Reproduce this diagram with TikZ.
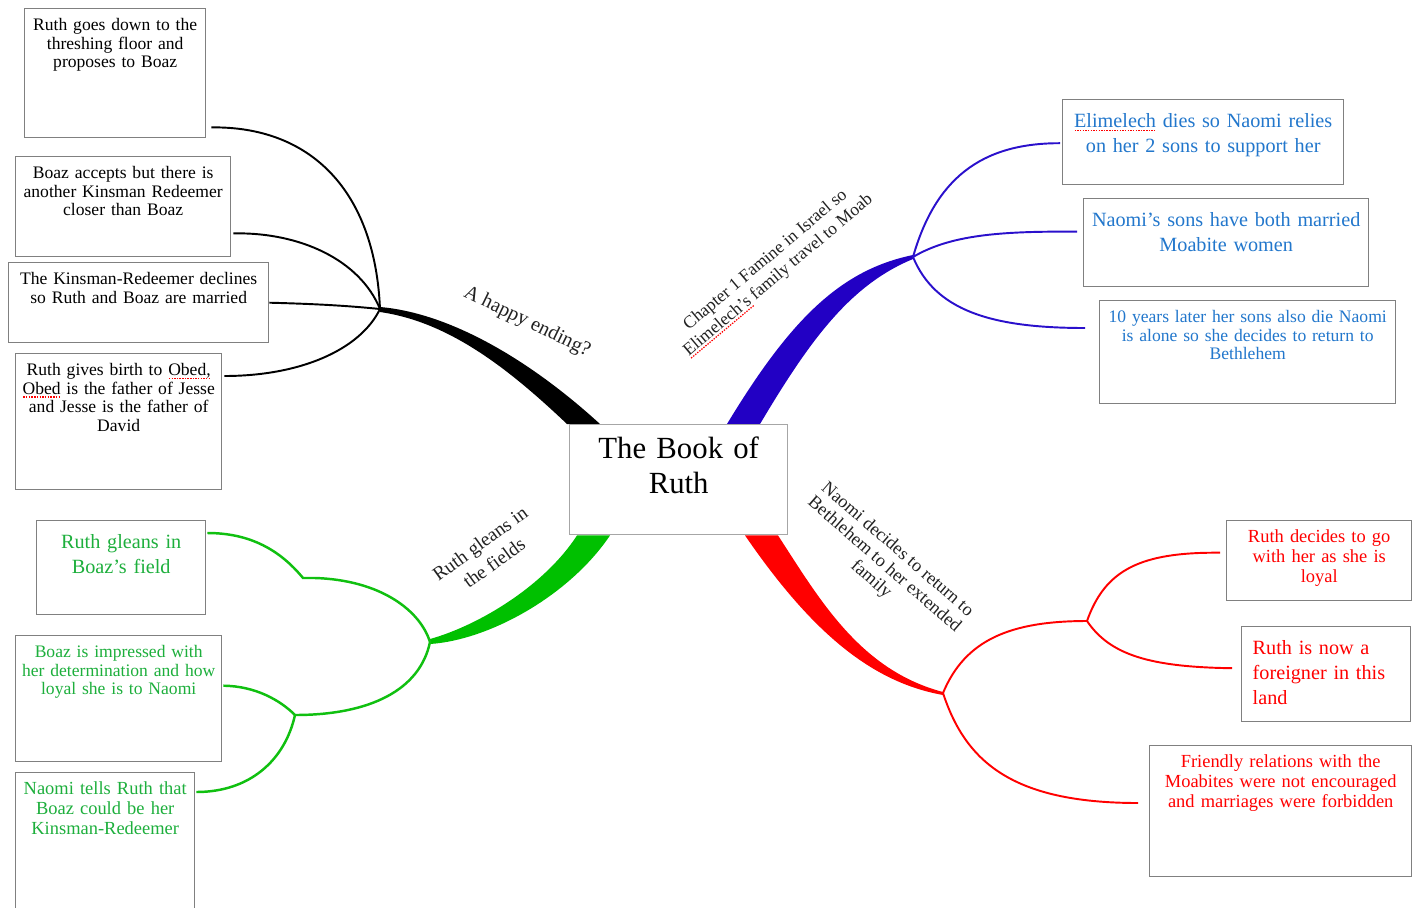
\documentclass[tikz,border=0pt]{standalone}
\usepackage{fontspec}
\setmainfont{Liberation Serif}
\usetikzlibrary{backgrounds}

\definecolor{boxgray}{HTML}{808080}
\definecolor{mapblue}{HTML}{2200C4}
\definecolor{blueline}{HTML}{2A10CC}
\definecolor{bluetext}{HTML}{2277CC}
\definecolor{mapgreen}{HTML}{00C000}
\definecolor{greenline}{HTML}{10C010}
\definecolor{greentext}{HTML}{1DAF3C}
\definecolor{mapred}{HTML}{FF0000}
\definecolor{labelgray}{HTML}{222222}

% red dotted spelling mark under a word
\newcommand{\spellmark}[1]{\leavevmode\setbox0\hbox{#1}\rlap{\textcolor{red}{\hbox to \wd0{\xleaders\hbox to 1.5pt{\hss\rule[-2pt]{0.8pt}{0.7pt}\hss}\hfill}}}\box0\relax}

\tikzset{
  box/.style={draw=boxgray, line width=0.8pt, fill=white, anchor=north west, align=center, inner xsep=0.7mm, inner ysep=1.4mm},
  boxS/.style={box, font=\fontsize{10}{10.5}\selectfont, text height=3mm},
  boxM/.style={box, font=\fontsize{10.5}{11.3}\selectfont, text height=3mm},
  boxL/.style={box, font=\fontsize{11.5}{14.2}\selectfont, text height=4.2mm},
  twig/.style={line width=1.1pt},
  branchlabel/.style={text=labelgray, align=center}
}

\begin{document}
\begin{tikzpicture}[x=0.2mm,y=-0.2mm]
\useasboundingbox (0,0) rectangle (1416,907);

\coordinate (hubH) at (380,309);
\coordinate (hubC) at (913,257);
\coordinate (hubN) at (943,693);
\coordinate (hubNb) at (1087,621);
\coordinate (hubG) at (430,642);
\coordinate (hubGb) at (295,715);
\coordinate (kinkG) at (303,578);

\node[box, draw=gray!70, font=\fontsize{17.5}{19.8}\selectfont, text width=42.2mm, text height=5.4mm, text depth=13.8mm] (book) at (569,424) {The Book of\\Ruth};

\node[boxS, text width=34.8mm, text depth=20mm] (hPropose) at (24,8) {Ruth goes down to the\\threshing floor and\\proposes to Boaz};
\node[boxS, text width=41.6mm, text depth=14.2mm] (hAccept) at (15,156) {Boaz accepts but there is\\another Kinsman Redeemer\\closer than Boaz};
\node[boxS, text width=50.6mm, text depth=10.2mm] (hDecline) at (8,262) {The Kinsman-Redeemer declines\\so Ruth and Boaz are married};
\node[boxS, text width=39.8mm, text depth=21.4mm] (hObed) at (15,353) {Ruth gives birth to \spellmark{Obed,}\\\spellmark{Obed} is the father of Jesse\\and Jesse is the father of\\David};

\node[boxL, text=bluetext, text width=54.8mm, text depth=10mm] (cDies) at (1062,99) {\spellmark{Elimelech} dies so Naomi relies\\on her 2 sons to support her};
\node[boxL, text=bluetext, text width=55.6mm, text depth=10.6mm] (cMarried) at (1083,198) {Naomi’s sons have both married\\Moabite women};
\node[boxS, text=bluetext, text width=57.8mm, text depth=14.8mm] (cAlone) at (1099,300) {10 years later her sons also die Naomi\\is alone so she decides to return to\\Bethlehem};

\node[boxL, text=greentext, text width=32.4mm, text depth=11.8mm] (gField) at (36,520) {Ruth gleans in\\Boaz’s field};
\node[boxS, text=greentext, text width=39.8mm, text depth=19.4mm] (gImpressed) at (15,635) {Boaz is impressed with\\her determination and how\\loyal she is to Naomi};
\node[boxM, text=greentext, text width=34.4mm, text depth=22.2mm] (gTells) at (15,772) {Naomi tells Ruth that\\Boaz could be her\\Kinsman-Redeemer};

\node[boxM, text=mapred, text width=35.6mm, text depth=10.2mm] (nLoyal) at (1226,520) {Ruth decides to go\\with her as she is\\loyal};
\node[boxL, text=mapred, align=left, inner xsep=2.2mm, text width=29.4mm, text depth=12mm] (nForeign) at (1241,626) {Ruth is now a\\foreigner in this\\land};
\node[boxM, text=mapred, text width=51mm, text depth=20.4mm] (nFriendly) at (1149,745) {Friendly relations with the\\Moabites were not encouraged\\and marriages were forbidden};

\node[branchlabel, rotate=-26, font=\fontsize{11.5}{13}\selectfont] (lHappy) at (527,322) {A happy ending?};
\node[branchlabel, rotate=40, font=\fontsize{10}{11.3}\selectfont] (lFamine) at (772,268) {Chapter 1 Famine in Israel so\\\spellmark{Elimelech’s} family travel to Moab};
\node[branchlabel, rotate=36, font=\fontsize{11}{13.5}\selectfont] (lGleans) at (487,553) {Ruth gleans in\\the fields};
\node[branchlabel, rotate=-41, font=\fontsize{10.4}{11.3}\selectfont] (lReturn) at (884,565) {Naomi decides to return to\\Bethlehem to her extended\\family};

\begin{scope}[on background layer]
\fill[white] (0,0) rectangle (1416,907);

\fill[black] ([shift={(0,-2)}]hubH) .. controls (450,313) and (530,360) .. ([shift={(31,0)}]book.north west) -- ([shift={(-2,0)}]book.north west) .. controls (510,370) and (450,322) .. ([shift={(0,3)}]hubH) -- cycle;
\fill[mapblue] ([shift={(0,-2)}]hubC) .. controls (840,270) and (790,320) .. ([shift={(158,0)}]book.north west) -- ([shift={(191,0)}]book.north west) .. controls (810,340) and (850,285) .. ([shift={(0,2)}]hubC) -- cycle;
\fill[mapred] ([shift={(176,0)}]book.south west) .. controls (810,630) and (870,682) .. ([shift={(0,2)}]hubN) -- ([shift={(0,-1)}]hubN) .. controls (860,670) and (820,600) .. ([shift={(209,0)}]book.south west) -- cycle;
\fill[mapgreen] ([shift={(8,0)}]book.south west) .. controls (545,585) and (480,625) .. ([shift={(0,-3)}]hubG) -- ([shift={(0,2)}]hubG) .. controls (490,640) and (570,595) .. ([shift={(41,0)}]book.south west) -- cycle;

\draw[twig] ([shift={(5,-11)}]hPropose.south east) .. controls (310,126) and (375,190) .. (hubH);
\draw[twig] ([shift={(2,-24)}]hAccept.south east) .. controls (300,232) and (360,260) .. (hubH);
\draw[twig] (hDecline.east) .. controls (320,304) and (350,306) .. (hubH);
\draw[twig] ([shift={(2,23)}]hObed.north east) .. controls (300,376) and (360,350) .. (hubH);

\draw[twig, blueline] (hubC) .. controls (935,180) and (980,143) .. ([shift={(-2,1)}]cDies.west);
\draw[twig, blueline] (hubC) .. controls (950,235) and (1000,231) .. ([shift={(-6,-11)}]cMarried.west);
\draw[twig, blueline] (hubC) .. controls (935,310) and (990,328) .. ([shift={(-14,28)}]cAlone.north west);

\draw[twig, mapred] (hubN) .. controls (965,640) and (1010,621) .. (hubNb);
\draw[twig, mapred] (hubNb) .. controls (1105,570) and (1140,552) .. ([shift={(-6,-8)}]nLoyal.west);
\draw[twig, mapred] (hubNb) .. controls (1110,655) and (1150,667) .. ([shift={(-9,-6)}]nForeign.west);
\draw[twig, mapred] (hubN) .. controls (965,760) and (1010,803) .. ([shift={(-11,58)}]nFriendly.north west);

\draw[twig, greenline, line width=1.4pt] ([shift={(1,13)}]gField.north east) .. controls (250,533) and (280,550) .. (kinkG) -- (315,578) .. controls (380,580) and (420,610) .. (hubG);
\draw[twig, greenline, line width=1.4pt] (hubG) .. controls (420,690) and (370,715) .. (hubGb);
\draw[twig, greenline, line width=1.4pt] ([shift={(1,-13)}]gImpressed.east) .. controls (255,686) and (280,700) .. (hubGb);
\draw[twig, greenline, line width=1.4pt] ([shift={(1,20)}]gTells.north east) .. controls (250,792) and (285,760) .. (hubGb);
\end{scope}
\end{tikzpicture}
\end{document}
